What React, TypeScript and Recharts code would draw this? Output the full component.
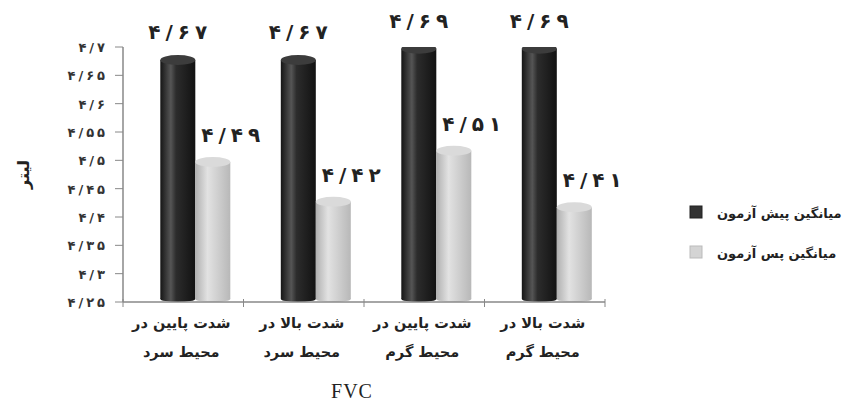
import React from 'react';
import { BarChart, Bar, XAxis, YAxis, LabelList } from 'recharts';

const labelLine1 = ['شدت پایین در', 'شدت بالا در', 'شدت پایین در', 'شدت بالا در'];
const labelLine2 = ['محیط سرد', 'محیط سرد', 'محیط گرم', 'محیط گرم'];
const preTest = [4.67, 4.67, 4.69, 4.69];
const postTest = [4.49, 4.42, 4.51, 4.41];
const yTicks = [4.25, 4.3, 4.35, 4.4, 4.45, 4.5, 4.55, 4.6, 4.65, 4.7];
const seriesNames = ['میانگین پیش آزمون', 'میانگین پس آزمون'];
const yLabel = 'لیتر';
const xTitle = 'FVC';

const data = labelLine1.map((l, i) => ({
  key: String(i),
  line1: l,
  line2: labelLine2[i],
  pre: preTest[i],
  post: postTest[i],
}));

const FA = '۰۱۲۳۴۵۶۷۸۹';
const toFa = (v: number) =>
  String(v)
    .replace('.', '/')
    .replace(/[0-9]/g, (d) => FA[Number(d)]);

const FONT = '"DejaVu Sans", sans-serif';
const SHIFT = 12;

const spaced = (s: string, gap: number) =>
  s.split('').map((ch, k) => (
    <tspan key={k} dx={k === 0 ? 0 : gap}>
      {ch}
    </tspan>
  ));

const Cylinder = (props: any) => {
  const { x, y, width, height, gradId, topFill } = props;
  if (height == null || width == null) return null;
  const cx = x + SHIFT;
  const top = y - 4;
  return (
    <g>
      <rect x={cx} y={top} width={width} height={height + 4 - 3} fill={`url(#${gradId})`} />
      <ellipse cx={cx + width / 2} cy={y + height - 3} rx={width / 2} ry={3} fill={`url(#${gradId})`} />
      <ellipse cx={cx + width / 2} cy={top} rx={width / 2} ry={5} fill={topFill} />
    </g>
  );
};

const makeValueLabel = (dxExtra: number, lift: number) => (props: any) => {
  const { x, y, width, value } = props;
  return (
    <text
      x={x + width / 2 + dxExtra}
      y={y - lift}
      textAnchor="middle"
      fontFamily={FONT}
      fontWeight="bold"
      fontSize={20}
      fill="#222"
    >
      {spaced(toFa(value), 5)}
    </text>
  );
};

const XTick = (props: any) => {
  const { x, y, payload, index } = props;
  const half = payload && payload.offset ? payload.offset : 60.5;
  const i = index ?? 0;
  return (
    <g>
      <line x1={x - half} x2={x - half} y1={y - 3} y2={y + 5} stroke="#888" />
      {i === data.length - 1 && (
        <line x1={x + half} x2={x + half} y1={y - 3} y2={y + 5} stroke="#888" />
      )}
      <text x={x - 2} y={y + 26} textAnchor="middle" fontFamily={FONT} fontWeight="bold" fontSize={14.5} fill="#222">
        {data[i]?.line1}
      </text>
      <text x={x - 2} y={y + 55} textAnchor="middle" fontFamily={FONT} fontWeight="bold" fontSize={14.5} fill="#222">
        {data[i]?.line2}
      </text>
    </g>
  );
};

const YTick = (props: any) => {
  const { x, y, payload } = props;
  return (
    <text x={x} y={y} dy={5} textAnchor="end" fontFamily={FONT} fontWeight="bold" fontSize={13} fill="#333">
      {spaced(toFa(payload.value), 3)}
    </text>
  );
};

const LegendBox = () => (
  <g>
    {seriesNames.map((n, i) => (
      <g key={n}>
        <rect
          x={690}
          y={206 + i * 40}
          width={12}
          height={12}
          fill={i === 0 ? '#333' : '#d4d4d4'}
          stroke={i === 0 ? '#222' : '#bbb'}
        />
        <text x={717} y={218 + i * 40} fontFamily={FONT} fontWeight="bold" fontSize={13} fill="#222">
          {n}
        </text>
      </g>
    ))}
  </g>
);

export default function App() {
  return (
    <div style={{ position: 'absolute', left: 0, top: 0, width: 863, height: 402, background: '#fff' }}>
      <BarChart
        width={863}
        height={402}
        data={data}
        margin={{ top: 47, right: 258, bottom: 0, left: 63 }}
        barCategoryGap="21%"
        barGap={0}
      >
        <defs>
          <linearGradient id="gDark" x1="0" y1="0" x2="1" y2="0">
            <stop offset="0" stopColor="#151515" />
            <stop offset="0.3" stopColor="#555" />
            <stop offset="0.45" stopColor="#2c2c2c" />
            <stop offset="1" stopColor="#121212" />
          </linearGradient>
          <linearGradient id="gLight" x1="0" y1="0" x2="1" y2="0">
            <stop offset="0" stopColor="#b0b0b0" />
            <stop offset="0.35" stopColor="#e2e2e2" />
            <stop offset="1" stopColor="#b8b8b8" />
          </linearGradient>
        </defs>
        <XAxis
          dataKey="key"
          height={100}
          axisLine={{ stroke: '#888', strokeWidth: 1.5 }}
          tickLine={false}
          tickSize={0}
          tickMargin={0}
          tick={<XTick />}
          interval={0}
          label={{
            value: xTitle,
            position: 'insideBottom',
            offset: 4,
            dx: -12,
            style: { fontFamily: '"Liberation Serif", serif', fontSize: 20, fill: '#222', letterSpacing: 1 },
          }}
        />
        <YAxis
          width={60}
          domain={[4.25, 4.7]}
          ticks={yTicks}
          allowDataOverflow
          axisLine={{ stroke: '#888', strokeWidth: 1.5 }}
          tickLine={{ stroke: '#888' }}
          tickSize={8}
          tickMargin={10}
          tick={<YTick />}
          label={{
            value: yLabel,
            angle: -90,
            position: 'insideLeft',
            dx: -45,
            dy: 0,
            style: { fontFamily: FONT, fontWeight: 'bold', fontSize: 16, fill: '#222', textAnchor: 'middle' },
          }}
        />
        <Bar
          dataKey="pre"
          name={seriesNames[0]}
          isAnimationActive={false}
          fill="#2a2a2a"
          shape={(p: any) => <Cylinder {...p} gradId="gDark" topFill="#3c3c3c" />}
        >
          <LabelList dataKey="pre" content={makeValueLabel(SHIFT, 25)} />
        </Bar>
        <Bar
          dataKey="post"
          name={seriesNames[1]}
          isAnimationActive={false}
          fill="#d0d0d0"
          shape={(p: any) => <Cylinder {...p} gradId="gLight" topFill="#dadada" />}
        >
          <LabelList dataKey="post" content={makeValueLabel(SHIFT + 18, 24)} />
        </Bar>
        <LegendBox />
      </BarChart>
    </div>
  );
}
